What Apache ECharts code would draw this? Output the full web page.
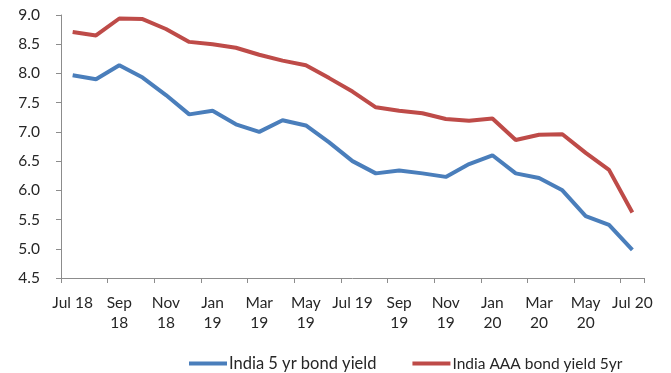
<!DOCTYPE html>
<html>
<head>
<meta charset="utf-8">
<script src="https://cdn.jsdelivr.net/npm/echarts@6/dist/echarts.min.js"></script>
<style>
  html, body { margin: 0; padding: 0; background: #ffffff; }
  #chart { width: 671px; height: 373px; }
</style>
</head>
<body>
<div id="chart"></div>
<script>
// Monthly observations, Jul 2018 – Jul 2020
const months = [
  'Jul 18', 'Aug 18', 'Sep 18', 'Oct 18', 'Nov 18', 'Dec 18',
  'Jan 19', 'Feb 19', 'Mar 19', 'Apr 19', 'May 19', 'Jun 19',
  'Jul 19', 'Aug 19', 'Sep 19', 'Oct 19', 'Nov 19', 'Dec 19',
  'Jan 20', 'Feb 20', 'Mar 20', 'Apr 20', 'May 20', 'Jun 20', 'Jul 20'
];

// Axis labels shown every second month
const tickLabels = [
  'Jul 18', 'Sep\n18', 'Nov\n18', 'Jan\n19', 'Mar\n19', 'May\n19', 'Jul 19',
  'Sep\n19', 'Nov\n19', 'Jan\n20', 'Mar\n20', 'May\n20', 'Jul 20'
];

const gsec5y = [
  7.97, 7.90, 8.14, 7.93, 7.63, 7.30, 7.36, 7.13, 7.00, 7.20, 7.11, 6.82,
  6.50, 6.29, 6.34, 6.29, 6.23, 6.45, 6.60, 6.29, 6.21, 6.00, 5.56, 5.41, 4.98
];

const aaa5y = [
  8.71, 8.65, 8.94, 8.93, 8.76, 8.54, 8.50, 8.44, 8.32, 8.22, 8.14, 7.92,
  7.69, 7.42, 7.36, 7.32, 7.22, 7.19, 7.23, 6.86, 6.95, 6.96, 6.64, 6.35, 5.62
];

const seriesNames = ['India 5 yr bond yield', 'India AAA bond yield 5yr'];

const FONT = 'Lato';
const TEXT = '#262626';
const AXIS = '#8c8c8c';

const chart = echarts.init(document.getElementById('chart'), null, { renderer: 'canvas' });

chart.setOption({
  animation: false,
  backgroundColor: '#ffffff',
  grid: { left: 61, right: 27, top: 15, bottom: 95 },
  legend: {
    data: [
      { name: seriesNames[0], textStyle: { fontSize: 16.5 } },
      { name: seriesNames[1], textStyle: { fontSize: 15.5 } }
    ],
    left: 184,
    top: 350,
    icon: 'rect',
    itemWidth: 38,
    itemHeight: 4,
    itemGap: 36,
    textStyle: { fontFamily: FONT, fontSize: 16, color: TEXT, padding: [0, 0, 0, -3] }
  },
  xAxis: {
    type: 'category',
    data: months,
    boundaryGap: true,
    axisLine: { lineStyle: { color: AXIS, width: 1 } },
    axisTick: { show: true, interval: 1, length: 5, lineStyle: { color: AXIS } },
    axisLabel: {
      interval: 1,
      margin: 15,
      fontFamily: FONT,
      fontSize: 15.5,
      lineHeight: 20,
      color: TEXT,
      formatter: (v, i) => tickLabels[i / 2]
    },
    splitLine: { show: false }
  },
  yAxis: {
    type: 'value',
    min: 4.5,
    max: 9.0,
    interval: 0.5,
    axisLine: { show: true, lineStyle: { color: AXIS, width: 1 } },
    axisTick: { show: true, length: 5, lineStyle: { color: AXIS } },
    axisLabel: {
      margin: 21,
      fontFamily: FONT,
      fontSize: 15.5,
      color: TEXT,
      formatter: v => v.toFixed(1)
    },
    splitLine: { show: false }
  },
  series: [
    {
      name: seriesNames[0],
      type: 'line',
      data: gsec5y,
      symbol: 'none',
      color: '#4a7ebb',
      lineStyle: { width: 4, color: '#4a7ebb' }
    },
    {
      name: seriesNames[1],
      type: 'line',
      data: aaa5y,
      symbol: 'none',
      color: '#be4b48',
      lineStyle: { width: 4, color: '#be4b48' }
    }
  ]
});
</script>
</body>
</html>
